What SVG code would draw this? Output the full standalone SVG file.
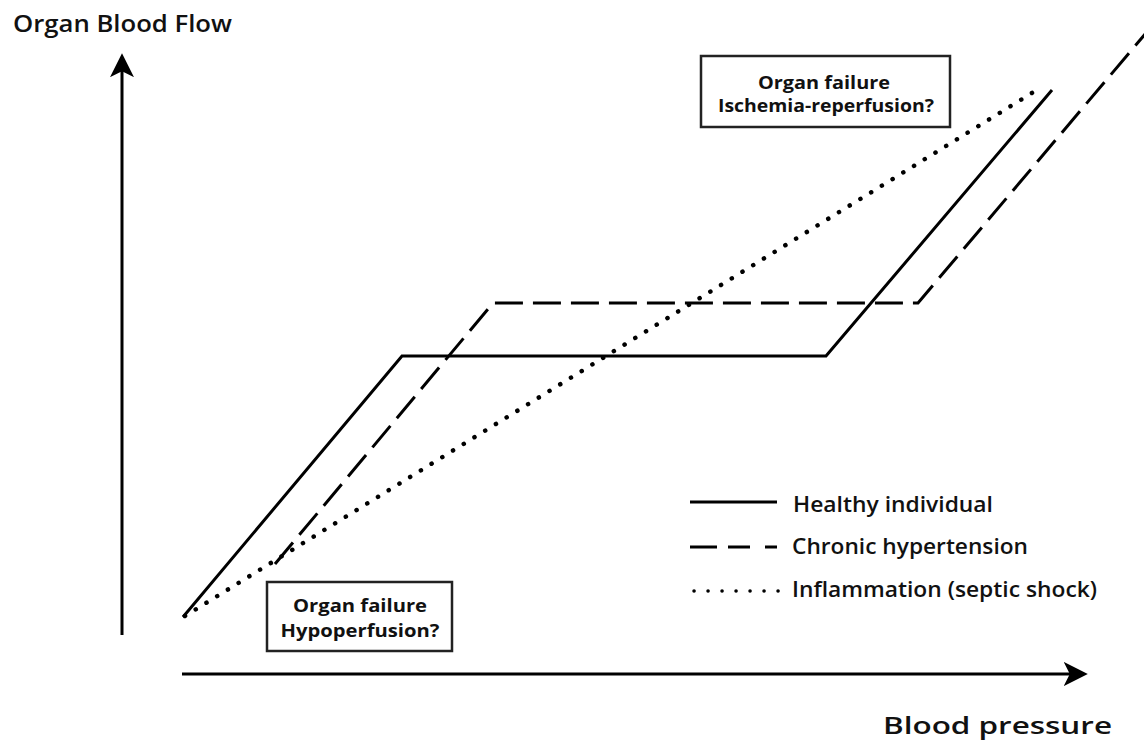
<svg xmlns="http://www.w3.org/2000/svg" width="1144" height="750" viewBox="0 0 1144 750">
<style>
.ln{fill:none;stroke:#000;stroke-width:3;}
.dash{stroke-dasharray:28 10;}
.dot{stroke-dasharray:0.1 12.5;stroke-linecap:round;stroke-width:4.5;}
.lbl{font-family:"Open Sans","Liberation Sans",sans-serif;font-weight:600;fill:#111;}
.bx{fill:#fff;stroke:#222;stroke-width:2.5;}
.bt{font-family:"Open Sans","Liberation Sans",sans-serif;font-weight:bold;font-size:18px;fill:#111;text-anchor:middle;}
</style>
<defs>
<marker id="ah2" viewBox="0 0 10 10" refX="8" refY="5" markerWidth="8" markerHeight="8" orient="auto" markerUnits="strokeWidth">
<path d="M0,0 L10,5 L0,10 L2.5,5 Z" fill="#000"/>
</marker>
</defs>
<rect width="1144" height="750" fill="#fff"/>
<g id="axes">
<line class="ln" x1="122" y1="635" x2="122" y2="58" marker-end="url(#ah2)"/>
<line class="ln" x1="182" y1="674" x2="1083" y2="674" marker-end="url(#ah2)"/>
</g>
<g id="axis-labels">
<text class="lbl" x="13" y="32" font-size="24" textLength="219" lengthAdjust="spacingAndGlyphs">Organ Blood Flow</text>
<text class="lbl" x="883" y="734" font-size="24" textLength="229" lengthAdjust="spacingAndGlyphs">Blood pressure</text>
</g>
<g id="connectors">
<polyline id="healthy" class="ln" points="183,617 402,356 826,356 1052,90"/>
<polyline id="hypertension" class="ln dash" points="275,564 493,303 918,303 1146,33"/>
<line id="inflammation" class="ln dot" x1="185" y1="616" x2="1040" y2="88"/>
</g>
<g id="box-top">
<rect class="bx" x="701" y="56" width="249" height="71"/>
<text class="bt" x="824" y="89" textLength="132" lengthAdjust="spacingAndGlyphs">Organ failure</text>
<text class="bt" x="826" y="112" textLength="216" lengthAdjust="spacingAndGlyphs">Ischemia-reperfusion?</text>
</g>
<g id="box-bottom">
<rect class="bx" x="267" y="582" width="185" height="69"/>
<text class="bt" x="360" y="612" textLength="134" lengthAdjust="spacingAndGlyphs">Organ failure</text>
<text class="bt" x="360" y="637" textLength="159" lengthAdjust="spacingAndGlyphs">Hypoperfusion?</text>
</g>
<g id="legend">
<line class="ln" x1="690" y1="502" x2="777" y2="502"/>
<line class="ln" x1="690" y1="547" x2="777" y2="547" stroke-dasharray="27 11 22 15 12"/>
<line class="ln dot" x1="694" y1="591" x2="780" y2="591" style="stroke-dasharray:0.1 13.9;stroke-width:3.5"/>
<text class="lbl" x="793" y="512" font-size="22" textLength="200" lengthAdjust="spacingAndGlyphs">Healthy individual</text>
<text class="lbl" x="792" y="554" font-size="22" textLength="236" lengthAdjust="spacingAndGlyphs">Chronic hypertension</text>
<text class="lbl" x="792" y="597" font-size="22" textLength="305" lengthAdjust="spacingAndGlyphs">Inflammation (septic shock)</text>
</g>
</svg>
